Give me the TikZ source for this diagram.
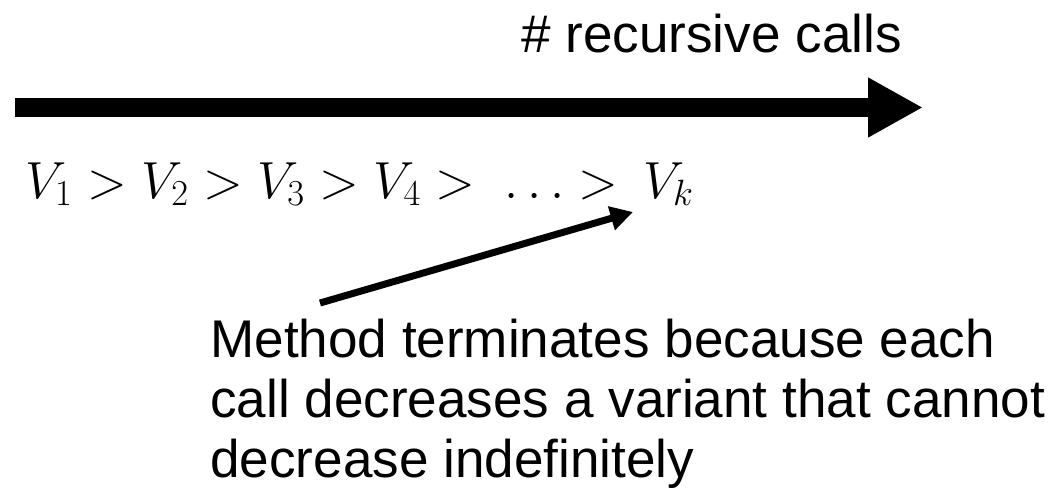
\RequirePackage{fix-cm}
\documentclass[tikz,border=0pt]{standalone}
\usepackage{amsmath,amssymb}
\usepackage{fontspec}
\newfontfamily\arialfont{Liberation Sans}
\usetikzlibrary{arrows.meta,positioning}

\begin{document}
\begin{tikzpicture}[
	label text/.style={font=\arialfont\fontsize{30.2pt}{34.14pt}\selectfont,inner sep=0},
	math text/.style={font=\fontsize{29.7pt}{34.14pt}\selectfont,inner sep=0}]
		\useasboundingbox (0,0) rectangle (21.18,-9.84);

		% >>> call axis
		\coordinate (axis start) at (0.3,-2.15);
		\coordinate (axis end) at (18.46,-2.15);
		\draw[line width=0.37cm,-{Triangle[length=1.1cm,width=1.12cm]}] (axis start) -- (axis end);
		\node[label text,anchor=base] (calls) at (14.23,-1.04) {\# recursive calls};
		% <<< call axis

		% >>> variants
		\node[math text,anchor=base west] (chain) at (0.5,-3.96) {$V_1 > V_2 > V_3 > V_4 > \;\ldots >$};
		\node[math text,anchor=base west] (vk) at (12.86,-3.96) {$V_k$};
		% <<< variants

		% >>> note
		\node[label text,anchor=north west,align=left] (note) at (4.2,-6.37) {Method terminates because each\\call decreases a variant that cannot\\decrease indefinitely};
		\draw[line width=0.14cm,-{Triangle[length=0.45cm,width=0.47cm]}] ([xshift=2.2cm,yshift=0.31cm]note.north west) -- ([xshift=-0.2cm,yshift=-0.28cm]vk.base west);
		% <<< note

	\end{tikzpicture}
\end{document}
